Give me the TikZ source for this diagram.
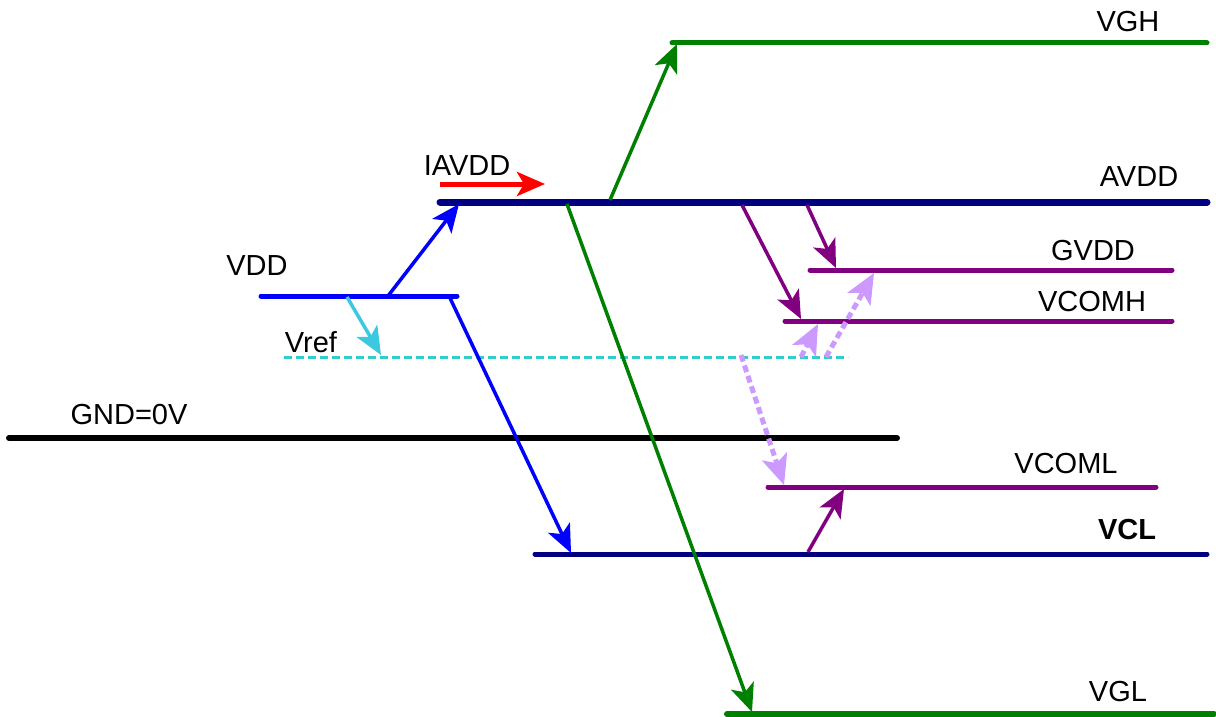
\documentclass[tikz,border=0pt]{standalone}
\usepackage{fontspec}
\setmainfont{Liberation Sans}
\usetikzlibrary{arrows.meta}
\definecolor{navyc}{RGB}{0,0,128}
\definecolor{bluec}{RGB}{0,0,255}
\definecolor{greenc}{RGB}{0,128,0}
\definecolor{purplec}{RGB}{128,0,128}
\definecolor{lilac}{RGB}{204,153,255}
\definecolor{tealc}{RGB}{51,204,204}
\definecolor{cyanar}{RGB}{60,200,225}
\definecolor{redc}{RGB}{255,0,0}
\tikzset{
  rail/.style={line width=5pt, line cap=round},
  lbl/.style={font=\fontsize{29}{32}\selectfont, inner sep=0pt},
  conn/.style={line width=3.5pt, -{Stealth[length=28pt,width=24pt,inset=7pt]}},
  dconn/.style={line width=5pt, color=lilac, dash pattern=on 7pt off 4pt, -{Stealth[length=30pt,width=26pt,inset=7pt]}},
}
\begin{document}
\begin{tikzpicture}[x=1pt,y=-1pt]
\path[use as bounding box, fill=white] (0,0) rectangle (1216,717);

% rails
\coordinate (vghA) at (672,43);  \coordinate (vghB) at (1207,43);
\coordinate (avddA) at (440,202); \coordinate (avddB) at (1207,202);
\coordinate (gvddA) at (810,270); \coordinate (gvddB) at (1172,270);
\coordinate (vcomhA) at (785,321); \coordinate (vcomhB) at (1172,321);
\coordinate (vrefA) at (284,357); \coordinate (vrefB) at (848,357);
\coordinate (vddA) at (261,296); \coordinate (vddB) at (457,296);
\coordinate (gndA) at (9,438); \coordinate (gndB) at (897,438);
\coordinate (vcomlA) at (768,487); \coordinate (vcomlB) at (1156,487);
\coordinate (vclA) at (535,554); \coordinate (vclB) at (1207,554);
\coordinate (vglA) at (727,714); \coordinate (vglB) at (1214,714);

\draw[rail, greenc] (vghA) -- (vghB);
\draw[rail, navyc, line width=7pt] (avddA) -- (avddB);
\draw[rail, purplec] (gvddA) -- (gvddB);
\draw[rail, purplec] (vcomhA) -- (vcomhB);
\draw[line width=3pt, tealc, dash pattern=on 8pt off 4pt] (vrefA) -- (vrefB);
\draw[rail, bluec] (vddA) -- (vddB);
\draw[rail, black, line width=6pt] (gndA) -- (gndB);
\draw[rail, purplec] (vcomlA) -- (vcomlB);
\draw[rail, navyc] (vclA) -- (vclB);
\draw[rail, greenc, line width=6pt] (vglA) -- (vglB);

% labels
\node[lbl] (tVGH) at (1128,22) {VGH};
\node[lbl] (tAVDD) at (1139,177) {AVDD};
\node[lbl] (tIAVDD) at (467,166) {IAVDD};
\node[lbl] (tGVDD) at (1093,251) {GVDD};
\node[lbl] (tVCOMH) at (1092,302) {VCOMH};
\node[lbl] (tVDD) at (257,266) {VDD};
\node[lbl] (tVref) at (311,342) {Vref};
\node[lbl] (tGND) at (129,415) {GND=0V};
\node[lbl] (tVCOML) at (1066,464) {VCOML};
\node[lbl, font=\fontsize{29}{32}\selectfont\bfseries] (tVCL) at (1127,530) {VCL};
\node[lbl] (tVGL) at (1118,692) {VGL};

% connector endpoints
\coordinate (iaS) at (440,184); \coordinate (iaE) at (545,184);
\coordinate (b1S) at (388,296); \coordinate (b1E) at (459,204);
\coordinate (b2S) at (450,298); \coordinate (b2E) at (571,553);
\coordinate (c1S) at (347,297); \coordinate (c1E) at (381,355);
\coordinate (g1S) at (610,200); \coordinate (g1E) at (677,44);
\coordinate (g2S) at (567,204); \coordinate (g2E) at (752,712);
\coordinate (p1S) at (742,205); \coordinate (p1E) at (801,319);
\coordinate (p2S) at (807,205); \coordinate (p2E) at (836,268);
\coordinate (p3S) at (808,552); \coordinate (p3E) at (844,489);
\coordinate (d1S) at (801,357); \coordinate (d1E) at (818,324);
\coordinate (d2S) at (826,357); \coordinate (d2E) at (874,273);
\coordinate (d3S) at (741,355); \coordinate (d3E) at (784,485);

\draw[conn, redc, line width=5pt] (iaS) -- (iaE);
\draw[conn, bluec] (b1S) -- (b1E);
\draw[conn, bluec] (b2S) -- (b2E);
\draw[conn, cyanar] (c1S) -- (c1E);
\draw[conn, greenc] (g1S) -- (g1E);
\draw[conn, greenc] (g2S) -- (g2E);
\draw[conn, purplec] (p1S) -- (p1E);
\draw[conn, purplec] (p2S) -- (p2E);
\draw[conn, purplec] (p3S) -- (p3E);
\draw[dconn] (d1S) -- (d1E);
\draw[dconn] (d2S) -- (d2E);
\draw[dconn] (d3S) -- (d3E);
\end{tikzpicture}
\end{document}
